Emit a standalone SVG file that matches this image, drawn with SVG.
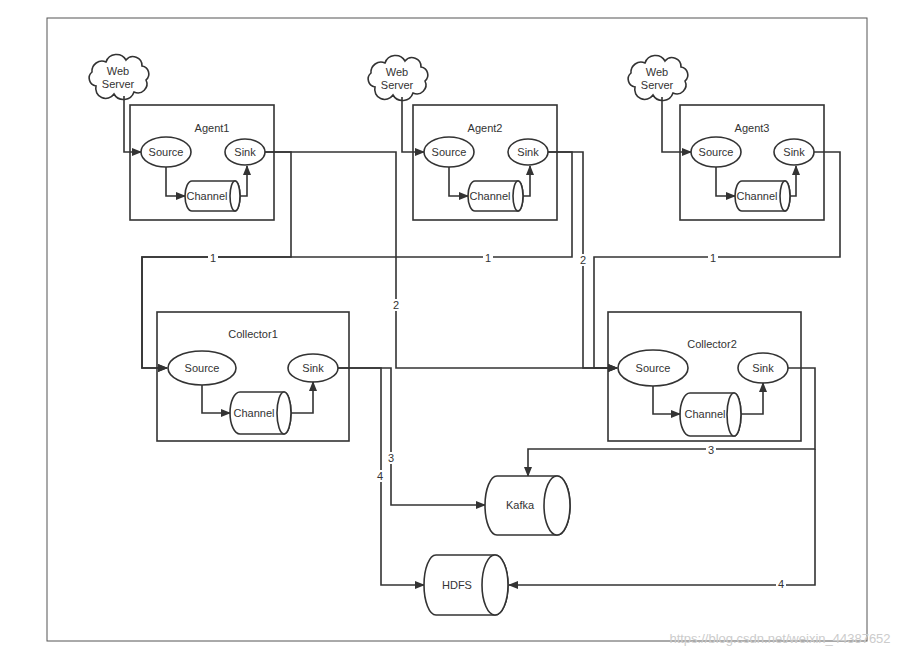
<svg xmlns="http://www.w3.org/2000/svg" width="924" height="659" viewBox="0 0 924 659">
<defs>
<marker id="ah" markerWidth="10" markerHeight="8" refX="9" refY="4" orient="auto" markerUnits="userSpaceOnUse"><path d="M0,0 L10,4 L0,8 Z" fill="#333"/></marker>
<path id="cloud" d="M-22,8 a8,8 0 0 1 -4,-14 a10,10 0 0 1 14,-10 a11,11 0 0 1 20,-2 a9,9 0 0 1 16,6 a8,8 0 0 1 4,14 a9,9 0 0 1 -12,12 a11,11 0 0 1 -20,2 a10,10 0 0 1 -18,-8 z"/>
</defs>
<style>
text{font-family:"Liberation Sans",Arial,sans-serif;font-size:11px;fill:#333;text-anchor:middle;dominant-baseline:central}
.box{fill:none;stroke:#333;stroke-width:1.6}
.sh{fill:#fff;stroke:#333;stroke-width:1.6}
.ln{fill:none;stroke:#333;stroke-width:1.6;marker-end:url(#ah)}
.lbl{fill:#fff;stroke:none}
</style>
<rect width="924" height="659" fill="#fff"/>
<rect x="47" y="18" width="820" height="623" fill="#fff" stroke="#555" stroke-width="1"/>

<g id="connectors">
<path class="ln" d="M265,152 H291 V257 H142 V368 H167"/>
<path class="ln" d="M265,152 H396 V368 H617"/>
<path class="ln" d="M548,152 H572 V257 H142 V368 H167"/>
<path class="ln" d="M548,152 H583 V368 H617"/>
<path class="ln" d="M814,152 H840 V257 H594 V368 H617"/>
<path class="ln" d="M338,368 H391 V505 H485"/>
<path class="ln" d="M338,368 H381 V585 H424"/>
<path class="ln" d="M788,368 H815 V449 H528 V476"/>
<path class="ln" d="M815,449 V585 H509"/>
<rect class="lbl" x="208" y="251" width="10" height="12"/><text x="213" y="258">1</text>
<rect class="lbl" x="483" y="251" width="10" height="12"/><text x="488" y="258">1</text>
<rect class="lbl" x="708" y="251" width="10" height="12"/><text x="713" y="258">1</text>
<rect class="lbl" x="391" y="299" width="10" height="12"/><text x="396" y="305">2</text>
<rect class="lbl" x="578" y="254" width="10" height="12"/><text x="583" y="260">2</text>
<rect class="lbl" x="386" y="452" width="10" height="12"/><text x="391" y="458">3</text>
<rect class="lbl" x="375" y="470" width="10" height="12"/><text x="380" y="476">4</text>
<rect class="lbl" x="706" y="444" width="10" height="12"/><text x="711" y="450">3</text>
<rect class="lbl" x="776" y="578" width="10" height="12"/><text x="781" y="584">4</text>
</g>

<g id="ws1"><use href="#cloud" x="118" y="78" class="sh"/><text x="118" y="71">Web</text><text x="118" y="84">Server</text><path class="ln" d="M124,96 V152 H141"/></g>
<g id="ws2"><use href="#cloud" x="397" y="79" class="sh"/><text x="397" y="72">Web</text><text x="397" y="85">Server</text><path class="ln" d="M402,97 V152 H424"/></g>
<g id="ws3"><use href="#cloud" x="657" y="79" class="sh"/><text x="657" y="72">Web</text><text x="657" y="85">Server</text><path class="ln" d="M662,97 V152 H691"/></g>

<g id="agent1">
<rect class="box" x="130" y="105" width="144" height="115"/>
<text x="212" y="128">Agent1</text>
<ellipse class="sh" cx="166" cy="152" rx="25" ry="15"/><text x="166" y="152">Source</text>
<ellipse class="sh" cx="245" cy="152" rx="20" ry="13"/><text x="245" y="152">Sink</text>
<path class="sh" d="M192,181 H235 A5,15 0 0 1 235,211 H192 A7,15 0 0 1 192,181 Z"/><ellipse class="sh" cx="235" cy="196" rx="5" ry="15"/><text x="207" y="196">Channel</text>
<path class="ln" d="M166,167 V196 H185"/><path class="ln" d="M240,196 H247 V166"/>
</g>
<g id="agent2">
<rect class="box" x="413" y="105" width="144" height="115"/>
<text x="485" y="128">Agent2</text>
<ellipse class="sh" cx="449" cy="152" rx="25" ry="15"/><text x="449" y="152">Source</text>
<ellipse class="sh" cx="528" cy="152" rx="20" ry="13"/><text x="528" y="152">Sink</text>
<path class="sh" d="M475,181 H518 A5,15 0 0 1 518,211 H475 A7,15 0 0 1 475,181 Z"/><ellipse class="sh" cx="518" cy="196" rx="5" ry="15"/><text x="490" y="196">Channel</text>
<path class="ln" d="M449,167 V196 H468"/><path class="ln" d="M523,196 H530 V166"/>
</g>
<g id="agent3">
<rect class="box" x="680" y="105" width="144" height="115"/>
<text x="752" y="128">Agent3</text>
<ellipse class="sh" cx="716" cy="152" rx="25" ry="15"/><text x="716" y="152">Source</text>
<ellipse class="sh" cx="794" cy="152" rx="20" ry="13"/><text x="794" y="152">Sink</text>
<path class="sh" d="M742,181 H785 A5,15 0 0 1 785,211 H742 A7,15 0 0 1 742,181 Z"/><ellipse class="sh" cx="785" cy="196" rx="5" ry="15"/><text x="757" y="196">Channel</text>
<path class="ln" d="M716,167 V196 H735"/><path class="ln" d="M790,196 H796 V166"/>
</g>

<g id="collector1">
<rect class="box" x="157" y="312" width="192" height="129"/>
<text x="253" y="334">Collector1</text>
<ellipse class="sh" cx="202" cy="368" rx="34" ry="17"/><text x="202" y="368">Source</text>
<ellipse class="sh" cx="313" cy="368" rx="25" ry="14"/><text x="313" y="368">Sink</text>
<path class="sh" d="M240,392 H284 A7,21 0 0 1 284,434 H240 A10,21 0 0 1 240,392 Z"/><ellipse class="sh" cx="284" cy="413" rx="7" ry="21"/><text x="254" y="413">Channel</text>
<path class="ln" d="M202,385 V413 H230"/><path class="ln" d="M291,413 H313 V382"/>
</g>
<g id="collector2">
<rect class="box" x="608" y="312" width="193" height="129"/>
<text x="712" y="344">Collector2</text>
<ellipse class="sh" cx="653" cy="368" rx="35" ry="18"/><text x="653" y="368">Source</text>
<ellipse class="sh" cx="763" cy="368" rx="25" ry="15"/><text x="763" y="368">Sink</text>
<path class="sh" d="M690,393 H734 A7,21.5 0 0 1 734,436 H690 A10,21.5 0 0 1 690,393 Z"/><ellipse class="sh" cx="734" cy="414.5" rx="7" ry="21.5"/><text x="705" y="414">Channel</text>
<path class="ln" d="M653,386 V414 H680"/><path class="ln" d="M741,414 H763 V383"/>
</g>

<g id="kafka">
<path class="sh" d="M497,476 H557 A13,29.5 0 0 1 557,535 H497 A12,29.5 0 0 1 497,476 Z"/><ellipse class="sh" cx="557" cy="505.5" rx="13" ry="29.5"/>
<text x="520" y="505">Kafka</text>
</g>
<g id="hdfs">
<path class="sh" d="M436,555 H495 A13,30 0 0 1 495,615 H436 A12,30 0 0 1 436,555 Z"/><ellipse class="sh" cx="495" cy="585" rx="13" ry="30"/>
<text x="457" y="585">HDFS</text>
</g>
<text x="780" y="638" style="fill:#ccc;font-size:13px">https://blog.csdn.net/weixin_44387652</text>
</svg>
